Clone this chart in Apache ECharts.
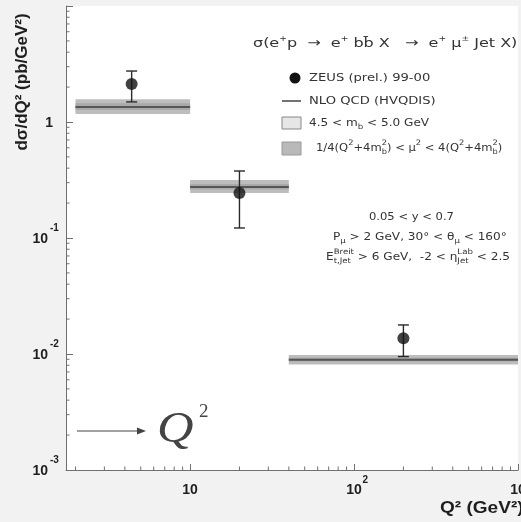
<!DOCTYPE html>
<html>
<head>
<meta charset="utf-8">
<script src="https://cdn.jsdelivr.net/npm/echarts@6/dist/echarts.min.js"></script>
<style>
  html, body { margin: 0; padding: 0; background: #f2f2f2; }
  #chart { width: 521px; height: 522px; }
</style>
</head>
<body>
<div id="chart"></div>
<script>
// Q^2 bin edges (GeV^2)
const binLow = [2, 10, 40];
const binHigh = [10, 40, 1000];

// ZEUS (prel.) 99-00 measurement
const q2Centre = [4.4, 20, 200];
const xsec = [2.13, 0.244, 0.0137];
const xsecErrLow = [1.49, 0.122, 0.0095];
const xsecErrHigh = [2.75, 0.378, 0.0178];

// NLO QCD (HVQDIS) prediction and its uncertainty bands
const nloCentral = [1.35, 0.275, 0.0089];
const nloScaleLow = [1.17, 0.244, 0.0081];
const nloScaleHigh = [1.57, 0.316, 0.0098];
const nloMassLow = [1.27, 0.262, 0.0086];
const nloMassHigh = [1.45, 0.292, 0.0093];

// axis ranges and labelled ticks
const xRange = [1.75, 1000];
const yRange = [0.001, 10];
const xTickValues = [10, 100, 1000];
const xTickBase = ['10', '10', '10'];
const xTickExp = ['', '2', '3'];
const yTickValues = [0.001, 0.01, 0.1, 1];
const yTickBase = ['10', '10', '10', '1'];
const yTickExp = ['-3', '-2', '-1', ''];

// logarithmic minor ticks (2..9 in every decade)
const minorMult = [2, 3, 4, 5, 6, 7, 8, 9];
const xMinor = [];
[1, 10, 100].forEach(d => minorMult.forEach(m => {
  const v = m * d;
  if (v > xRange[0] && v < xRange[1]) xMinor.push(v);
}));
const yMinor = [];
[0.001, 0.01, 0.1, 1].forEach(d => minorMult.forEach(m => {
  const v = +(m * d).toPrecision(3);
  if (v > yRange[0] && v < yRange[1]) yMinor.push(v);
}));

const FONT = 'Liberation Sans';       // axis labels and titles
const NOTE_FONT = 'DejaVu Sans';      // legend and annotations
const AXIS_COLOR = '#6f6f6f';
const TEXT_COLOR = '#333333';
const LABEL_COLOR = '#1e1e1e';
const TEXT_STRETCH = 1.15;

// text runs with super/subscripts laid out from measured glyph widths
const measureCtx = document.createElement('canvas').getContext('2d');
function textWidth(str, size, family) {
  measureCtx.font = size + 'px "' + family + '"';
  return measureCtx.measureText(str).width;
}
function textRun(x, y, parts, base, sx) {
  const out = [];
  let cursor = x, lastX = x, lastW = 0;
  parts.forEach(p => {
    const size = p.size || base;
    const family = p.family || NOTE_FONT;
    const w = textWidth(p.t, size, family) * sx;
    let px;
    if (p.stack) {
      px = lastX;
      lastW = Math.max(lastW, w);
      cursor = lastX + lastW;
    } else {
      px = cursor;
      lastX = cursor;
      lastW = w;
      cursor += w;
    }
    out.push({
      type: 'text', x: px, y: y + (p.dy || 0), scaleX: sx,
      style: { text: p.t, fontSize: size, fontFamily: family, fill: TEXT_COLOR,
               align: 'left', verticalAlign: 'middle' }
    });
  });
  return out;
}
const sup = t => ({ t: t, size: 7.5, dy: -4.5 });
const sub = t => ({ t: t, size: 7.5, dy: 4 });
const subStacked = t => ({ t: t, size: 7.5, dy: 4, stack: true });
const arrow = () => ({ t: ' → ', size: 13 });

function bandRenderer(fill) {
  return function (params, api) {
    const a = api.coord([api.value(0), api.value(3)]);
    const b = api.coord([api.value(1), api.value(2)]);
    return {
      type: 'rect',
      shape: { x: a[0], y: a[1], width: b[0] - a[0], height: b[1] - a[1] },
      style: { fill: fill }
    };
  };
}

function labelText(x, y, text, size, align, extra) {
  return Object.assign({
    type: 'text', x: x, y: y,
    style: { text: text, fontSize: size, fontWeight: 'bold', fontFamily: FONT, fill: LABEL_COLOR,
             align: align, verticalAlign: 'middle' }
  }, extra || {});
}

const titleText = textRun(253, 44, [
  { t: 'σ(e' }, sup('+'), { t: 'p ' }, arrow(), { t: ' e' }, sup('+'), { t: ' bb̄ X  ' }, arrow(),
  { t: ' e' }, sup('+'), { t: ' μ' }, sup('±'), { t: ' Jet X)' }
], 13, 1.23);

const legendText = [].concat(
  textRun(309, 78, [{ t: 'ZEUS (prel.) 99-00' }], 10.5, 1.25),
  textRun(309, 101, [{ t: 'NLO QCD (HVQDIS)' }], 10.5, 1.25),
  textRun(309, 123, [{ t: '4.5 < m' }, sub('b'), { t: ' < 5.0 GeV' }], 10.5, TEXT_STRETCH),
  textRun(316, 148, [
    { t: '1/4(Q' }, sup('2'), { t: '+4m' }, sup('2'), subStacked('b'), { t: ') < μ' }, sup('2'),
    { t: ' < 4(Q' }, sup('2'), { t: '+4m' }, sup('2'), subStacked('b'), { t: ')' }
  ], 10.5, 1.1)
);

const cutText = [].concat(
  textRun(369, 217, [{ t: '0.05 < y < 0.7' }], 10.5, 1.1),
  textRun(333, 237, [{ t: 'P' }, sub('μ'), { t: ' > 2 GeV, 30° < θ' }, sub('μ'), { t: ' < 160°' }], 10.5, TEXT_STRETCH),
  textRun(326, 257, [
    { t: 'E' }, sup('Breit'), subStacked('t,Jet'), { t: ' > 6 GeV,  -2 < η' },
    sup('Lab'), subStacked('Jet'), { t: ' < 2.5' }
  ], 10.5, TEXT_STRETCH)
);

const chart = echarts.init(document.getElementById('chart'), null, { renderer: 'canvas' });

chart.setOption({
  backgroundColor: '#f2f2f2',
  animation: false,
  grid: {
    left: 66, right: 3, top: 6, bottom: 52,
    show: true, backgroundColor: '#ffffff', borderWidth: 0
  },
  xAxis: {
    type: 'log', logBase: 10, min: xRange[0], max: xRange[1],
    axisLine: { show: true, lineStyle: { color: AXIS_COLOR, width: 1 } },
    axisTick: { show: true, inside: true, length: 6, lineStyle: { color: AXIS_COLOR } },
    axisLabel: { show: false },
    splitLine: { show: false }
  },
  yAxis: {
    type: 'log', logBase: 10, min: yRange[0], max: yRange[1],
    axisLine: { show: true, lineStyle: { color: AXIS_COLOR, width: 1 } },
    axisTick: { show: true, inside: true, length: 7, lineStyle: { color: AXIS_COLOR } },
    axisLabel: { show: false },
    splitLine: { show: false }
  },
  series: [
    {
      // renormalisation / factorisation scale variation
      type: 'custom', name: 'scale',
      data: binLow.map((v, i) => [binLow[i], binHigh[i], nloScaleLow[i], nloScaleHigh[i]]),
      encode: { x: [0, 1], y: [2, 3] },
      renderItem: bandRenderer('#bdbdbd'),
      z: 1
    },
    {
      // b-quark mass variation
      type: 'custom', name: 'mass',
      data: binLow.map((v, i) => [binLow[i], binHigh[i], nloMassLow[i], nloMassHigh[i]]),
      encode: { x: [0, 1], y: [2, 3] },
      renderItem: bandRenderer('#a9a9a9'),
      z: 2
    },
    {
      // NLO central value per bin
      type: 'custom', name: 'NLO',
      data: binLow.map((v, i) => [binLow[i], binHigh[i], nloCentral[i]]),
      encode: { x: [0, 1], y: 2 },
      renderItem: function (params, api) {
        const a = api.coord([api.value(0), api.value(2)]);
        const b = api.coord([api.value(1), api.value(2)]);
        return {
          type: 'line',
          shape: { x1: a[0], y1: a[1], x2: b[0], y2: b[1] },
          style: { stroke: '#555555', lineWidth: 2 }
        };
      },
      z: 3
    },
    {
      // measurement error bars
      type: 'custom', name: 'errors',
      data: q2Centre.map((v, i) => [q2Centre[i], xsecErrLow[i], xsecErrHigh[i]]),
      encode: { x: 0, y: [1, 2] },
      renderItem: function (params, api) {
        const lo = api.coord([api.value(0), api.value(1)]);
        const hi = api.coord([api.value(0), api.value(2)]);
        const cap = 5.5;
        const st = { stroke: '#2a2a2a', lineWidth: 1.4 };
        return {
          type: 'group',
          children: [
            { type: 'line', shape: { x1: lo[0], y1: lo[1], x2: hi[0], y2: hi[1] }, style: st },
            { type: 'line', shape: { x1: lo[0] - cap, y1: lo[1], x2: lo[0] + cap, y2: lo[1] }, style: st },
            { type: 'line', shape: { x1: hi[0] - cap, y1: hi[1], x2: hi[0] + cap, y2: hi[1] }, style: st }
          ]
        };
      },
      z: 4
    },
    {
      type: 'scatter', name: 'ZEUS (prel.) 99-00',
      data: q2Centre.map((v, i) => [q2Centre[i], xsec[i]]),
      symbol: 'circle', symbolSize: 12,
      itemStyle: { color: '#111111' },
      z: 5
    },
    {
      // minor ticks on the x axis
      type: 'custom', name: 'xMinor',
      data: xMinor.map(v => [v, yRange[0]]),
      encode: { x: 0, y: 1 },
      renderItem: function (params, api) {
        const p = api.coord([api.value(0), api.value(1)]);
        return { type: 'line', shape: { x1: p[0], y1: p[1], x2: p[0], y2: p[1] - 3.5 },
                 style: { stroke: AXIS_COLOR, lineWidth: 1 } };
      },
      silent: true, z: 6
    },
    {
      // minor ticks on the y axis
      type: 'custom', name: 'yMinor',
      data: yMinor.map(v => [xRange[0], v]),
      encode: { x: 0, y: 1 },
      renderItem: function (params, api) {
        const p = api.coord([api.value(0), api.value(1)]);
        return { type: 'line', shape: { x1: p[0], y1: p[1], x2: p[0] + 3.5, y2: p[1] },
                 style: { stroke: AXIS_COLOR, lineWidth: 1 } };
      },
      silent: true, z: 6
    },
    {
      // x tick labels (powers of ten)
      type: 'custom', name: 'xLabels',
      data: xTickValues.map((v, i) => [v, yRange[0], i]),
      encode: { x: 0, y: 1 },
      renderItem: function (params, api) {
        const p = api.coord([api.value(0), api.value(1)]);
        const i = api.value(2);
        return {
          type: 'group',
          children: [
            labelText(p[0], p[1] + 20, xTickBase[i], 14, 'center'),
            labelText(p[0] + 8.5, p[1] + 10, xTickExp[i], 10, 'left')
          ]
        };
      },
      silent: true, z: 6
    },
    {
      // y tick labels (powers of ten)
      type: 'custom', name: 'yLabels',
      data: yTickValues.map((v, i) => [xRange[0], v, i]),
      encode: { x: 0, y: 1 },
      renderItem: function (params, api) {
        const p = api.coord([api.value(0), api.value(1)]);
        const i = api.value(2);
        const hasExp = yTickExp[i] !== '';
        return {
          type: 'group',
          children: [
            labelText(hasExp ? p[0] - 18 : p[0] - 13, p[1] + 1, yTickBase[i], 14, 'right'),
            labelText(p[0] - 16, p[1] - 10, yTickExp[i], 10, 'left')
          ]
        };
      },
      silent: true, z: 6
    }
  ],
  graphic: [].concat(
    [
      // axis titles
      labelText(22, 82, 'dσ/dQ² (pb/GeV²)', 17, 'center', { rotation: Math.PI / 2 }),
      labelText(440, 508, 'Q² (GeV²)', 17, 'left', { scaleX: 1.12 }),
      // legend symbols
      { type: 'circle', shape: { cx: 295, cy: 78, r: 5.5 }, style: { fill: '#111' } },
      { type: 'line', shape: { x1: 282, y1: 101, x2: 301, y2: 101 }, style: { stroke: '#444', lineWidth: 1.5 } },
      { type: 'rect', shape: { x: 282, y: 117, width: 19, height: 12 },
        style: { fill: '#e6e6e6', stroke: '#888', lineWidth: 1 } },
      { type: 'rect', shape: { x: 282, y: 142, width: 19, height: 13 },
        style: { fill: '#b9b9b9', stroke: '#999', lineWidth: 1 } },
      // Q^2 arrow
      { type: 'line', shape: { x1: 77, y1: 431, x2: 142, y2: 431 }, style: { stroke: '#444', lineWidth: 1.2 } },
      { type: 'polygon', shape: { points: [[146, 431], [137, 427.5], [137, 434.5]] }, style: { fill: '#444' } },
      { type: 'text', x: 157, y: 430, scaleX: 1.15,
        style: { text: 'Q', fontSize: 44, fontStyle: 'italic', fontFamily: 'Liberation Serif',
                 fill: '#444', verticalAlign: 'middle' } },
      { type: 'text', x: 199, y: 412,
        style: { text: '2', fontSize: 19, fontFamily: 'Liberation Serif', fill: '#444', verticalAlign: 'middle' } }
    ],
    titleText, legendText, cutText
  )
});
</script>
</body>
</html>
